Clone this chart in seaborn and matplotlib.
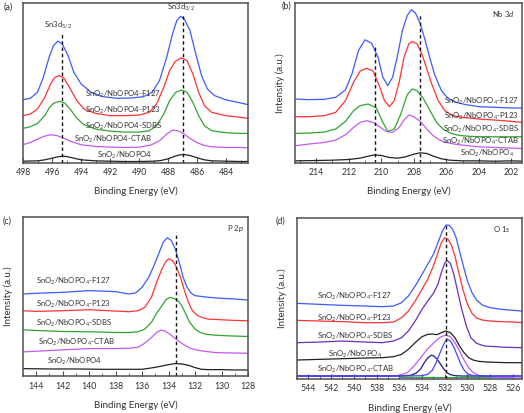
import matplotlib
matplotlib.use("Agg")
import matplotlib.pyplot as plt
from matplotlib.ticker import MultipleLocator
import seaborn as sns
import pandas as pd

# ---------------- Panel (a): Sn 3d ----------------
a_black_E = [498, 497, 496.5, 496, 495.6, 495.3, 495, 494.6, 494, 493, 492, 491, 490, 489, 488.5, 488, 487.6, 487.2, 486.9, 486.5, 486, 485.5, 485, 484, 483, 482.5]
a_black_I = [4, 5, 8, 13, 17, 19, 18, 14, 8, 5, 4, 3, 3, 4, 6, 11, 18, 23, 24, 21, 14, 8, 5, 4, 3, 3]
a_ctab_E = [498, 497.5, 497, 496.5, 496.1, 495.7, 495.2, 494.7, 494, 493, 492, 491, 490, 489.2, 488.6, 488.1, 487.7, 487.3, 486.9, 486.5, 486, 485.5, 485, 484, 483, 482.5]
a_ctab_I = [53, 60, 70, 79, 83, 81, 73, 63, 53, 48, 46, 45, 46, 52, 65, 85, 97, 95, 85, 72, 59, 51, 47, 45, 45, 44]
a_sdbs_E = [498, 497.5, 497, 496.5, 496.2, 495.9, 495.5, 495.1, 494.7, 494.3, 493.8, 493, 492, 491, 490, 489.3, 488.8, 488.3, 487.9, 487.5, 487.1, 486.7, 486.3, 485.9, 485.5, 485, 484, 483, 482.5]
a_sdbs_I = [102, 107, 117, 140, 163, 177, 183, 177, 157, 133, 113, 100, 94, 91, 91, 95, 110, 145, 185, 209, 217, 210, 180, 140, 110, 95, 89, 87, 87]
a_p123_E = [498, 497.5, 497, 496.5, 496.1, 495.8, 495.5, 495.2, 494.8, 494.3, 493.8, 493, 492, 491, 490, 489.3, 488.8, 488.3, 487.9, 487.5, 487.1, 486.7, 486.3, 485.9, 485.5, 485, 484, 483, 482.5]
a_p123_I = [140, 145, 160, 195, 235, 255, 260, 253, 225, 185, 160, 147, 140, 140, 142, 150, 175, 225, 275, 303, 313, 305, 265, 210, 170, 150, 140, 135, 132]
a_f127_E = [498, 497.5, 497, 496.6, 496.2, 495.9, 495.6, 495.3, 494.9, 494.5, 494, 493.3, 492.5, 491.5, 490.5, 489.7, 489.1, 488.6, 488.1, 487.7, 487.4, 487.15, 486.9, 486.5, 486.1, 485.7, 485.3, 484.8, 484, 483.2, 482.5]
a_f127_I = [188, 192, 210, 255, 315, 350, 363, 355, 320, 270, 235, 210, 197, 192, 193, 197, 210, 245, 315, 385, 425, 437, 430, 395, 325, 260, 220, 200, 187, 180, 173]
a_ticks = [498, 496, 494, 492, 490, 488, 486, 484]
a_dash = [495.3, 487.0]

# ---------------- Panel (b): Nb 3d ----------------
b_black_E = [215.3, 214, 213, 212, 211.3, 210.8, 210.4, 210, 209.5, 209, 208.5, 208, 207.6, 207.2, 206.8, 206.3, 205.8, 205, 204, 203, 202, 201.35]
b_black_I = [5, 6, 7, 9, 13, 19, 23, 21, 15, 13, 17, 25, 29, 27, 19, 11, 7, 5, 5, 4, 5, 4]
b_ctab_E = [215.3, 214.5, 213.5, 212.8, 212.2, 211.7, 211.3, 210.9, 210.5, 210.1, 209.7, 209.3, 208.9, 208.6, 208.3, 208.0, 207.6, 207.2, 206.8, 206.4, 206, 205.5, 205, 204, 203, 202, 201.35]
b_ctab_I = [50, 55, 60, 67, 83, 105, 120, 125, 120, 107, 93, 90, 105, 127, 142, 137, 123, 100, 80, 67, 60, 55, 52, 47, 45, 43, 42]
b_sdbs_E = [215.3, 214.5, 213.5, 212.8, 212.2, 211.7, 211.3, 210.8, 210.3, 209.9, 209.6, 209.2, 208.8, 208.4, 208.1, 207.8, 207.4, 207.0, 206.6, 206.2, 205.7, 205.2, 204.5, 203.5, 202.5, 201.35]
b_sdbs_I = [87, 88, 91, 100, 123, 155, 170, 175, 163, 120, 93, 100, 145, 203, 220, 215, 190, 155, 120, 100, 87, 81, 78, 77, 77, 77]
b_p123_E = [215.3, 214.5, 213.5, 212.8, 212.2, 211.7, 211.3, 210.9, 210.5, 210.1, 209.8, 209.5, 209.2, 208.9, 208.6, 208.3, 208.1, 207.8, 207.5, 207.2, 206.9, 206.5, 206.1, 205.6, 205, 204, 203, 202, 201.35]
b_p123_I = [137, 137, 140, 150, 185, 240, 273, 282, 273, 227, 185, 167, 185, 240, 315, 355, 362, 355, 325, 280, 235, 185, 155, 140, 135, 130, 127, 123, 120]
b_f127_E = [215.3, 214.5, 213.5, 212.8, 212.2, 211.8, 211.4, 211.0, 210.6, 210.2, 209.9, 209.6, 209.3, 209.0, 208.7, 208.4, 208.15, 207.9, 207.6, 207.3, 207.0, 206.7, 206.3, 205.9, 205.4, 204.8, 204, 203, 202, 201.35]
b_f127_I = [190, 188, 189, 195, 217, 265, 335, 367, 357, 315, 255, 230, 255, 320, 395, 440, 457, 447, 415, 365, 310, 260, 215, 192, 180, 173, 167, 165, 163, 163]
b_ticks = [214, 212, 210, 208, 206, 204, 202]
b_dash = [210.4, 207.6]

# ---------------- Panel (c): P 2p ----------------
c_black_E = [145, 143, 141, 139, 137, 136, 135.3, 134.6, 134, 133.5, 133, 132.5, 132, 131.5, 131, 130, 129, 128]
c_black_I = [22, 21, 21, 20, 20, 20, 24, 29, 34, 37, 36, 32, 25, 20, 19, 19, 18, 18]
c_ctab_E = [145, 144, 142, 140, 138, 137, 136.3, 135.8, 135.3, 134.9, 134.6, 134.3, 133.9, 133.5, 133.1, 132.7, 132.3, 131.8, 131.3, 130.5, 129.5, 128]
c_ctab_I = [72, 74, 78, 82, 82, 83, 86, 98, 115, 130, 137, 135, 125, 112, 100, 90, 82, 77, 74, 70, 69, 68]
c_sdbs_E = [145, 144, 142, 140, 138, 137, 136.3, 135.8, 135.3, 134.9, 134.5, 134.2, 133.9, 133.6, 133.3, 133.0, 132.7, 132.4, 132.0, 131.6, 131.2, 130.5, 129.5, 128]
c_sdbs_I = [138, 136, 133, 132, 130, 130, 132, 140, 160, 188, 210, 228, 235, 232, 225, 210, 185, 160, 140, 130, 125, 122, 120, 118]
c_p123_E = [145, 144, 142, 140, 138, 137, 136.3, 135.8, 135.3, 134.9, 134.5, 134.2, 134.0, 133.7, 133.4, 133.1, 132.8, 132.5, 132.2, 131.8, 131.4, 131, 130, 129, 128]
c_p123_I = [195, 193, 195, 198, 194, 192, 195, 205, 235, 280, 320, 343, 350, 345, 325, 295, 255, 220, 195, 180, 174, 170, 168, 166, 165]
c_f127_E = [145, 144, 142, 140, 138, 137, 136.5, 136.0, 135.5, 135.1, 134.7, 134.4, 134.1, 133.8, 133.5, 133.2, 132.9, 132.6, 132.3, 132.0, 131.6, 131, 130, 129, 128]
c_f127_I = [245, 247, 250, 255, 252, 245, 248, 265, 295, 330, 370, 400, 413, 405, 380, 340, 295, 265, 248, 240, 238, 235, 232, 230, 227]
c_ticks = [144, 142, 140, 138, 136, 134, 132, 130, 128]
c_dash = [133.45]

# ---------------- Panel (d): O 1s ----------------
d_f127_E = [545, 543, 541, 539, 537.5, 536.5, 535.8, 535.2, 534.6, 534.0, 533.5, 533.0, 532.6, 532.2, 531.9, 531.6, 531.3, 531.0, 530.7, 530.4, 530.0, 529.6, 529.2, 528.7, 528, 527, 526, 525.2]
d_f127_I = [226, 223, 220, 218, 216, 218, 228, 248, 278, 313, 343, 373, 408, 443, 461, 460, 448, 423, 383, 343, 293, 258, 236, 221, 213, 208, 205, 203]
d_p123_E = [545, 543, 541, 539, 537.5, 536.5, 535.8, 535.2, 534.6, 534.0, 533.5, 533.0, 532.6, 532.3, 532.0, 531.7, 531.4, 531.1, 530.8, 530.4, 530.0, 529.6, 529.2, 528.7, 528, 527, 526, 525.2]
d_p123_I = [175, 173, 171, 168, 168, 170, 183, 203, 233, 268, 298, 338, 378, 408, 423, 418, 400, 368, 323, 268, 223, 196, 182, 176, 173, 171, 170, 168]
d_sdbs_E = [545, 543, 541, 539, 537.5, 536.5, 535.8, 535.2, 534.6, 534.0, 533.5, 533.0, 532.6, 532.3, 532.0, 531.8, 531.5, 531.2, 530.9, 530.5, 530.1, 529.7, 529.2, 528.5, 527.5, 526.5, 525.2]
d_sdbs_I = [108, 110, 113, 110, 108, 113, 123, 143, 173, 208, 233, 256, 283, 318, 346, 355, 346, 313, 268, 208, 158, 123, 106, 98, 96, 94, 93]
d_black_E = [545, 543, 541, 539, 537.5, 536.5, 535.8, 535.2, 534.6, 534.0, 533.5, 533.1, 532.7, 532.3, 531.9, 531.5, 531.1, 530.7, 530.3, 529.9, 529.5, 529.0, 528.3, 527.5, 526.5, 525.2]
d_black_I = [56, 58, 60, 62, 63, 66, 73, 88, 108, 126, 133, 134, 132, 138, 143, 138, 123, 98, 78, 63, 56, 52, 50, 49, 48, 48]
d_ctab_E = [545, 543, 541, 539, 537, 536, 535.3, 534.7, 534.1, 533.6, 533.1, 532.7, 532.3, 531.9, 531.5, 531.1, 530.7, 530.3, 529.9, 529.5, 529, 528.3, 527.5, 526.5, 525.2]
d_ctab_I = [8, 8, 8, 8, 8, 10, 18, 38, 63, 86, 103, 116, 126, 131, 126, 108, 83, 56, 33, 18, 10, 6, 4, 3, 2]
d_fit1_E = [545, 540, 536, 535, 534.5, 534.1, 533.8, 533.5, 533.2, 533.0, 532.7, 532.4, 532.1, 531.8, 531.5, 531.1, 530.5, 529, 526, 525.2]
d_fit1_I = [8, 8, 8, 10, 17, 30, 48, 62, 70, 69, 60, 45, 30, 18, 12, 9, 8, 8, 8, 8]
d_fit2_E = [545, 536, 534, 533.5, 533.1, 532.8, 532.5, 532.2, 531.95, 531.75, 531.5, 531.2, 530.9, 530.6, 530.3, 530, 529.6, 529, 526, 525.2]
d_fit2_I = [8, 8, 9, 13, 25, 45, 70, 95, 112, 118, 113, 95, 70, 45, 26, 15, 10, 8, 8, 8]
d_base_E = [536, 531, 526]
d_base_I = [4, 3, 3]
d_ticks = [544, 542, 540, 538, 536, 534, 532, 530, 528, 526]
d_dash = [531.9]

# ---------------- style ----------------
sns.set_style("ticks")
plt.rcParams["font.family"] = ["Lato", "DejaVu Sans"]
plt.rcParams["mathtext.fontset"] = "custom"
plt.rcParams["mathtext.rm"] = "Lato"
plt.rcParams["mathtext.it"] = "Lato:italic"

BLUE = "#3d5cff"
RED = "#ff3333"
GREEN = "#2fa52f"
VIOLET = "#c35cf5"
BLACK = "#222222"
DVIOLET = "#6a2fc0"
NAVY = "#1c1c8c"
FITBLUE = "#4646ff"
FRAME = "#505050"
TXT = "#333333"

fig = plt.figure(figsize=(5.24, 4.13), dpi=100)
ax_a = fig.add_axes([0.0439, 0.6065, 0.4294, 0.3862])
ax_b = fig.add_axes([0.5630, 0.6065, 0.4332, 0.3862])
ax_c = fig.add_axes([0.0439, 0.0896, 0.4294, 0.3850])
ax_d = fig.add_axes([0.5668, 0.0831, 0.4294, 0.3898])


def draw(ax, E, I, color, lw=0.9):
    df = pd.DataFrame({"E": E, "I": I})
    sns.lineplot(data=df, x="E", y="I", ax=ax, color=color, lw=lw, estimator=None, sort=False)


def style(ax, xlim, ylim, ticks, ylabel=True):
    ax.set_xlim(*xlim)
    ax.set_ylim(*ylim)
    ax.set_xticks(ticks)
    ax.set_xticklabels([str(t) for t in ticks])
    ax.xaxis.set_minor_locator(MultipleLocator(1))
    ax.set_yticks([])
    ax.tick_params(axis="x", which="major", direction="in", length=3.5, width=0.8,
                   labelsize=6.3, colors=FRAME, labelcolor=TXT, pad=4)
    ax.tick_params(axis="x", which="minor", direction="in", length=2, width=0.6, colors=FRAME)
    for s in ax.spines.values():
        s.set_color(FRAME)
        s.set_linewidth(1.1)
    ax.set_xlabel("Binding Energy (eV)", fontsize=7, color=TXT, labelpad=7)
    if ylabel:
        ax.set_ylabel("Intensity (a.u.)", fontsize=7, color=TXT, labelpad=7)
    else:
        ax.set_ylabel("")


def dash(ax, x, y0, y1):
    ax.plot([x, x], [y0, y1], ls=(0, (2.5, 2)), color="#111111", lw=1.0)


lab_kw = dict(fontsize=5.6, color=TXT)

# (a)
for E, I, c in [(a_black_E, a_black_I, BLACK), (a_ctab_E, a_ctab_I, VIOLET),
                (a_sdbs_E, a_sdbs_I, GREEN), (a_p123_E, a_p123_I, RED),
                (a_f127_E, a_f127_I, BLUE)]:
    draw(ax_a, E, I, c)
dash(ax_a, a_dash[0], 0, 385)
dash(ax_a, a_dash[1], 0, 440)
style(ax_a, (498, 482.5), (0, 477), a_ticks, ylabel=False)
ax_a.text(495.6, 408, r"Sn3d$_{5/2}$", ha="center", va="center", **lab_kw)
ax_a.text(487.1, 463, r"Sn3d$_{3/2}$", ha="center", va="center", **lab_kw)
ax_a.text(491.1, 203, r"SnO$_2$/NbOPO4-F127", ha="center", va="center", **lab_kw)
ax_a.text(491.1, 157, r"SnO$_2$/NbOPO4-P123", ha="center", va="center", **lab_kw)
ax_a.text(491.1, 107, r"SnO$_2$/NbOPO4-SDBS", ha="center", va="center", **lab_kw)
ax_a.text(491.8, 68, r"SnO$_2$/NbOPO4-CTAB", ha="center", va="center", **lab_kw)
ax_a.text(491.0, 21, r"SnO$_2$/NbOPO4", ha="center", va="center", **lab_kw)

# (b)
for E, I, c in [(b_black_E, b_black_I, BLACK), (b_ctab_E, b_ctab_I, VIOLET),
                (b_sdbs_E, b_sdbs_I, GREEN), (b_p123_E, b_p123_I, RED),
                (b_f127_E, b_f127_I, BLUE)]:
    draw(ax_b, E, I, c)
dash(ax_b, b_dash[0], 0, 355)
dash(ax_b, b_dash[1], 0, 445)
style(ax_b, (215.3, 201.35), (0, 477), b_ticks)
ax_b.text(201.55, 184, r"SnO$_2$/NbOPO$_4$-F127", ha="right", va="center", **lab_kw)
ax_b.text(201.55, 137, r"SnO$_2$/NbOPO$_4$-P123", ha="right", va="center", **lab_kw)
ax_b.text(201.55, 98, r"SnO$_2$/NbOPO$_4$-SDBS", ha="right", va="center", **lab_kw)
ax_b.text(201.55, 62, r"SnO$_2$/NbOPO$_4$-CTAB", ha="right", va="center", **lab_kw)
ax_b.text(201.85, 26, r"SnO$_2$/NbOPO$_4$", ha="right", va="center", **lab_kw)
ax_b.text(202.5, 443, r"Nb $\it{3d}$", ha="center", va="center", **lab_kw)

# (c)
for E, I, c in [(c_black_E, c_black_I, BLACK), (c_ctab_E, c_ctab_I, VIOLET),
                (c_sdbs_E, c_sdbs_I, GREEN), (c_p123_E, c_p123_I, RED),
                (c_f127_E, c_f127_I, BLUE)]:
    draw(ax_c, E, I, c)
dash(ax_c, c_dash[0], 0, 430)
style(ax_c, (145, 128), (0, 475), c_ticks)
ax_c.text(144.0, 284, r"SnO$_2$/NbOPO$_4$-F127", ha="left", va="center", **lab_kw)
ax_c.text(144.0, 214, r"SnO$_2$/NbOPO$_4$-P123", ha="left", va="center", **lab_kw)
ax_c.text(144.0, 158, r"SnO$_2$/NbOPO$_4$-SDBS", ha="left", va="center", **lab_kw)
ax_c.text(143.85, 99, r"SnO$_2$/NbOPO$_4$-CTAB", ha="left", va="center", **lab_kw)
ax_c.text(143.2, 43, r"SnO$_2$/NbOPO4", ha="left", va="center", **lab_kw)
ax_c.text(128.95, 442, r"P $\it{2p}$", ha="center", va="center", **lab_kw)

# (d)
draw(ax_d, d_base_E, d_base_I, GREEN)
for E, I, c in [(d_ctab_E, d_ctab_I, VIOLET), (d_fit1_E, d_fit1_I, NAVY),
                (d_fit2_E, d_fit2_I, FITBLUE), (d_black_E, d_black_I, BLACK),
                (d_sdbs_E, d_sdbs_I, DVIOLET), (d_p123_E, d_p123_I, RED),
                (d_f127_E, d_f127_I, BLUE)]:
    draw(ax_d, E, I, c)
dash(ax_d, d_dash[0], 0, 463)
style(ax_d, (545, 525.2), (0, 483), d_ticks)
ax_d.text(543.2, 248, r"SnO$_2$/NbOPO$_4$-F127", ha="left", va="center", **lab_kw)
ax_d.text(543.2, 181, r"SnO$_2$/NbOPO$_4$-P123", ha="left", va="center", **lab_kw)
ax_d.text(543.2, 128, r"SnO$_2$/NbOPO$_4$-SDBS", ha="left", va="center", **lab_kw)
ax_d.text(542.25, 74, r"SnO$_2$/NbOPO$_4$", ha="left", va="center", **lab_kw)
ax_d.text(543.2, 28, r"SnO$_2$/NbOPO$_4$-CTAB", ha="left", va="center", **lab_kw)
ax_d.text(527.0, 448, r"O $\it{1s}$", ha="center", va="center", **lab_kw)

# panel letters
fig.text(8 / 524, 1 - 7 / 413, "(a)", fontsize=6.5, ha="center", va="center", color=TXT)
fig.text(287 / 524, 1 - 6 / 413, "(b)", fontsize=6.5, ha="center", va="center", color=TXT)
fig.text(7 / 524, 1 - 221 / 413, "(c)", fontsize=6.5, ha="center", va="center", color=TXT)
fig.text(280 / 524, 1 - 221 / 413, "(d)", fontsize=6.5, ha="center", va="center", color=TXT)

fig.savefig("out.png", dpi=100)
